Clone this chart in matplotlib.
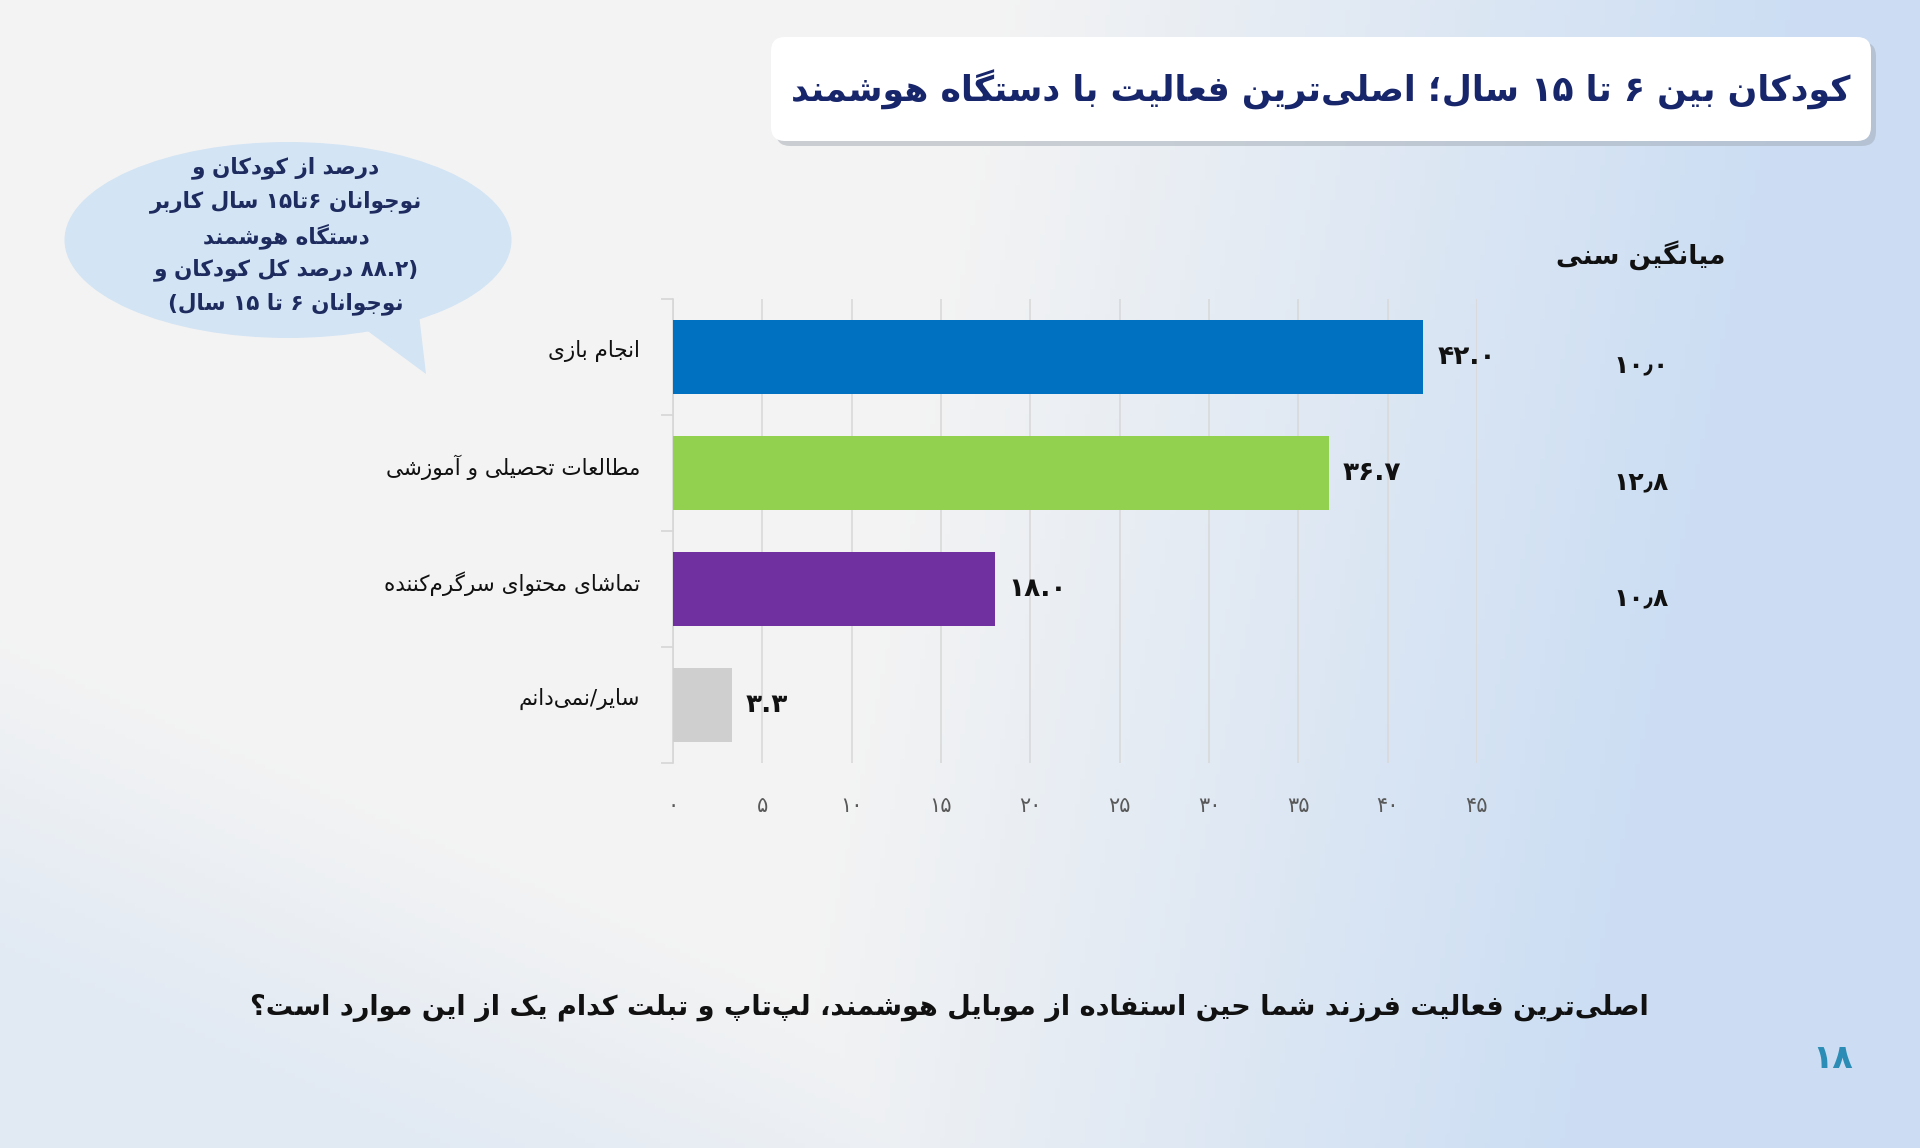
import re

import matplotlib
matplotlib.use("Agg")
import matplotlib.pyplot as plt
import numpy as np
from matplotlib.patches import Ellipse, FancyBboxPatch, Polygon
from matplotlib.transforms import blended_transform_factory

# ---- data ----
categories = ["انجام بازی", "مطالعات تحصیلی و آموزشی",
              "تماشای محتوای سرگرم‌کننده", "سایر/نمی‌دانم"]
shares = [42.0, 36.7, 18.0, 3.3]
mean_age = [10.0, 12.8, 10.8]
bar_colors = ["#0070c0", "#92d050", "#7030a0", "#d0cfcf"]
xticks = list(range(0, 50, 5))

title = "کودکان بین ۶ تا ۱۵ سال؛ اصلی‌ترین فعالیت با دستگاه هوشمند"
bubble_lines = ["درصد از کودکان و",
                "نوجوانان ۶تا۱۵ سال کاربر",
                "دستگاه هوشمند",
                "(۸۸.۲ درصد کل کودکان و",
                "نوجوانان ۶ تا ۱۵ سال)"]
age_header = "میانگین سنی"
question = ("اصلی‌ترین فعالیت فرزند شما حین استفاده از موبایل هوشمند، "
            "لپ‌تاپ و تبلت کدام یک از این موارد است؟")
page_no = "۱۸"

NAVY = "#17256b"
INK = "#111111"

# ---- minimal arabic/persian shaping + rtl ordering ----
_F = {
    0x0622: (0xFE81, 0xFE82), 0x0627: (0xFE8D, 0xFE8E),
    0x0628: (0xFE8F, 0xFE90, 0xFE91, 0xFE92),
    0x067E: (0xFB56, 0xFB57, 0xFB58, 0xFB59),
    0x062A: (0xFE95, 0xFE96, 0xFE97, 0xFE98),
    0x062B: (0xFE99, 0xFE9A, 0xFE9B, 0xFE9C),
    0x062C: (0xFE9D, 0xFE9E, 0xFE9F, 0xFEA0),
    0x0686: (0xFB7A, 0xFB7B, 0xFB7C, 0xFB7D),
    0x062D: (0xFEA1, 0xFEA2, 0xFEA3, 0xFEA4),
    0x062E: (0xFEA5, 0xFEA6, 0xFEA7, 0xFEA8),
    0x062F: (0xFEA9, 0xFEAA), 0x0630: (0xFEAB, 0xFEAC),
    0x0631: (0xFEAD, 0xFEAE), 0x0632: (0xFEAF, 0xFEB0),
    0x0698: (0xFB8A, 0xFB8B),
    0x0633: (0xFEB1, 0xFEB2, 0xFEB3, 0xFEB4),
    0x0634: (0xFEB5, 0xFEB6, 0xFEB7, 0xFEB8),
    0x0635: (0xFEB9, 0xFEBA, 0xFEBB, 0xFEBC),
    0x0636: (0xFEBD, 0xFEBE, 0xFEBF, 0xFEC0),
    0x0637: (0xFEC1, 0xFEC2, 0xFEC3, 0xFEC4),
    0x0638: (0xFEC5, 0xFEC6, 0xFEC7, 0xFEC8),
    0x0639: (0xFEC9, 0xFECA, 0xFECB, 0xFECC),
    0x063A: (0xFECD, 0xFECE, 0xFECF, 0xFED0),
    0x0641: (0xFED1, 0xFED2, 0xFED3, 0xFED4),
    0x0642: (0xFED5, 0xFED6, 0xFED7, 0xFED8),
    0x06A9: (0xFB8E, 0xFB8F, 0xFB90, 0xFB91),
    0x06AF: (0xFB92, 0xFB93, 0xFB94, 0xFB95),
    0x0644: (0xFEDD, 0xFEDE, 0xFEDF, 0xFEE0),
    0x0645: (0xFEE1, 0xFEE2, 0xFEE3, 0xFEE4),
    0x0646: (0xFEE5, 0xFEE6, 0xFEE7, 0xFEE8),
    0x0647: (0xFEE9, 0xFEEA, 0xFEEB, 0xFEEC),
    0x0648: (0xFEED, 0xFEEE),
    0x06CC: (0xFBFC, 0xFBFD, 0xFBFE, 0xFBFF),
}
_LAMALEF = {0x0627: (0xFEFB, 0xFEFC), 0x0622: (0xFEF5, 0xFEF6)}


def shape(s):
    cs = [ord(c) for c in s]
    out = []
    i = 0
    while i < len(cs):
        c = cs[i]
        if c not in _F:
            out.append(chr(c))
            i += 1
            continue
        prev = cs[i - 1] if i > 0 else None
        pj = prev in _F and len(_F[prev]) == 4
        nxt = cs[i + 1] if i + 1 < len(cs) else None
        if c == 0x0644 and nxt in _LAMALEF:
            lig = _LAMALEF[nxt]
            out.append(chr(lig[1] if pj else lig[0]))
            i += 2
            continue
        f = _F[c]
        nj = len(f) == 4 and nxt in _F
        if pj and nj:
            g = f[3]
        elif pj:
            g = f[1]
        elif nj:
            g = f[2]
        else:
            g = f[0]
        out.append(chr(g))
        i += 1
    return "".join(out).replace("\u200c", "")


def fa(s):
    t = shape(s)[::-1]
    t = re.sub(r"[0-9۰-۹]+(?:[.٫][0-9۰-۹]+)*", lambda m: m.group(0)[::-1], t)
    return t.translate(str.maketrans("()", ")("))


def pdig(s):
    return s.translate(str.maketrans("0123456789", "۰۱۲۳۴۵۶۷۸۹"))


plt.rcParams.update({"font.family": ["DejaVu Sans"]})

W, H = 1920, 1148
fig = plt.figure(figsize=(W / 100, H / 100), dpi=100)

# ---- background gradient ----
bg = fig.add_axes([0, 0, 1, 1], zorder=0)
gx, gy = np.meshgrid(np.linspace(0, 1, 384), np.linspace(0, 1, 230))
t = np.clip((gx - 0.52 + 0.12 * gy) * 2.4, 0, 1)
t = np.maximum(t, np.clip((gy - 0.55) * 1.6 - gx * 1.2, 0, 0.45))
gray = np.array([0.955, 0.955, 0.955])
blue = np.array([0.80, 0.87, 0.955])
img = gray[None, None, :] * (1 - t[..., None]) + blue[None, None, :] * t[..., None]
bg.imshow(img, aspect="auto", extent=[0, 1, 1, 0])
bg.set_xlim(0, 1)
bg.set_ylim(1, 0)
bg.axis("off")

# ---- overlay in pixel coords (y down) ----
ov = fig.add_axes([0, 0, 1, 1], zorder=1)
ov.set_xlim(0, W)
ov.set_ylim(H, 0)
ov.axis("off")
ov.patch.set_alpha(0)

# title card with soft shadow
ov.add_patch(FancyBboxPatch((776, 42), 1100, 104, boxstyle="round,pad=0,rounding_size=14",
                            fc="#9aa3ad", ec="none", alpha=0.45))
ov.add_patch(FancyBboxPatch((771, 37), 1100, 104, boxstyle="round,pad=0,rounding_size=14",
                            fc="white", ec="none"))
ov.text(1321, 90, fa(title), ha="center", va="center", fontsize=25,
        fontweight="bold", color=NAVY)

# speech bubble
BUB = "#d3e4f4"
ov.add_patch(Ellipse((288, 240), 447, 196, fc=BUB, ec="none"))
ov.add_patch(Polygon([(350, 318), (418, 306), (426, 374)], closed=True, fc=BUB, ec="none"))
for k, line in enumerate(bubble_lines):
    ov.text(286, 168 + k * 34, fa(line), ha="center", va="center", fontsize=15.5,
            fontweight="bold", color="#1e2b5e")

# average age header
ov.text(1641, 255, fa(age_header), ha="center", va="center", fontsize=19,
        fontweight="bold", color=INK)

# bottom question + page number
ov.text(949, 1008, fa(question), ha="center", va="center", fontsize=19.5,
        fontweight="bold", color=INK)
ov.text(1833, 1058, page_no, ha="center", va="center", fontsize=24,
        fontweight="bold", color="#2b8db5")

# ---- bar chart ----
ax = fig.add_axes([673 / W, 1 - 763 / H, (1477 - 673) / W, (763 - 299) / H], zorder=2)
ax.patch.set_alpha(0)
y = np.arange(len(categories))
ax.barh(y, shares, height=0.63, color=bar_colors, zorder=3)
ax.set_xlim(0, 45)
ax.set_ylim(len(categories) - 0.5, -0.5)

ax.set_xticks(xticks)
ax.set_xticklabels([pdig(str(v)) for v in xticks], fontsize=15, color="#595959")
ax.tick_params(axis="x", length=0, pad=24)
ax.set_yticks(np.arange(len(categories) + 1) - 0.5)
ax.set_yticklabels([])
ax.tick_params(axis="y", length=9, width=1.2, color="#d6d6d6")
ax.grid(axis="x", color="#d9d9d9", linewidth=1.2, zorder=0)
for s in ("top", "right", "bottom"):
    ax.spines[s].set_visible(False)
ax.spines["left"].set_color("#d6d6d6")
ax.spines["left"].set_linewidth(1.2)

for yi, v in zip(y, shares):
    ax.annotate(pdig(f"{v:.1f}"), xy=(v, yi), xytext=(10, 0), textcoords="offset points",
                ha="left", va="center", fontsize=19, fontweight="bold", color=INK)

lab_tr = blended_transform_factory(fig.transFigure, ax.transData)
for yi, c in zip(y, categories):
    ax.text(640 / W, yi - 0.05, fa(c), transform=lab_tr, ha="right", va="center",
            fontsize=15.5, color=INK)

# average age column
for yi, a in zip(y, mean_age):
    ax.text(1641 / W, yi + 0.08, pdig(f"{a:.1f}").replace(".", "٫"), transform=lab_tr,
            ha="center", va="center", fontsize=18, fontweight="bold", color=INK)

fig.savefig("out.png", dpi=100)
